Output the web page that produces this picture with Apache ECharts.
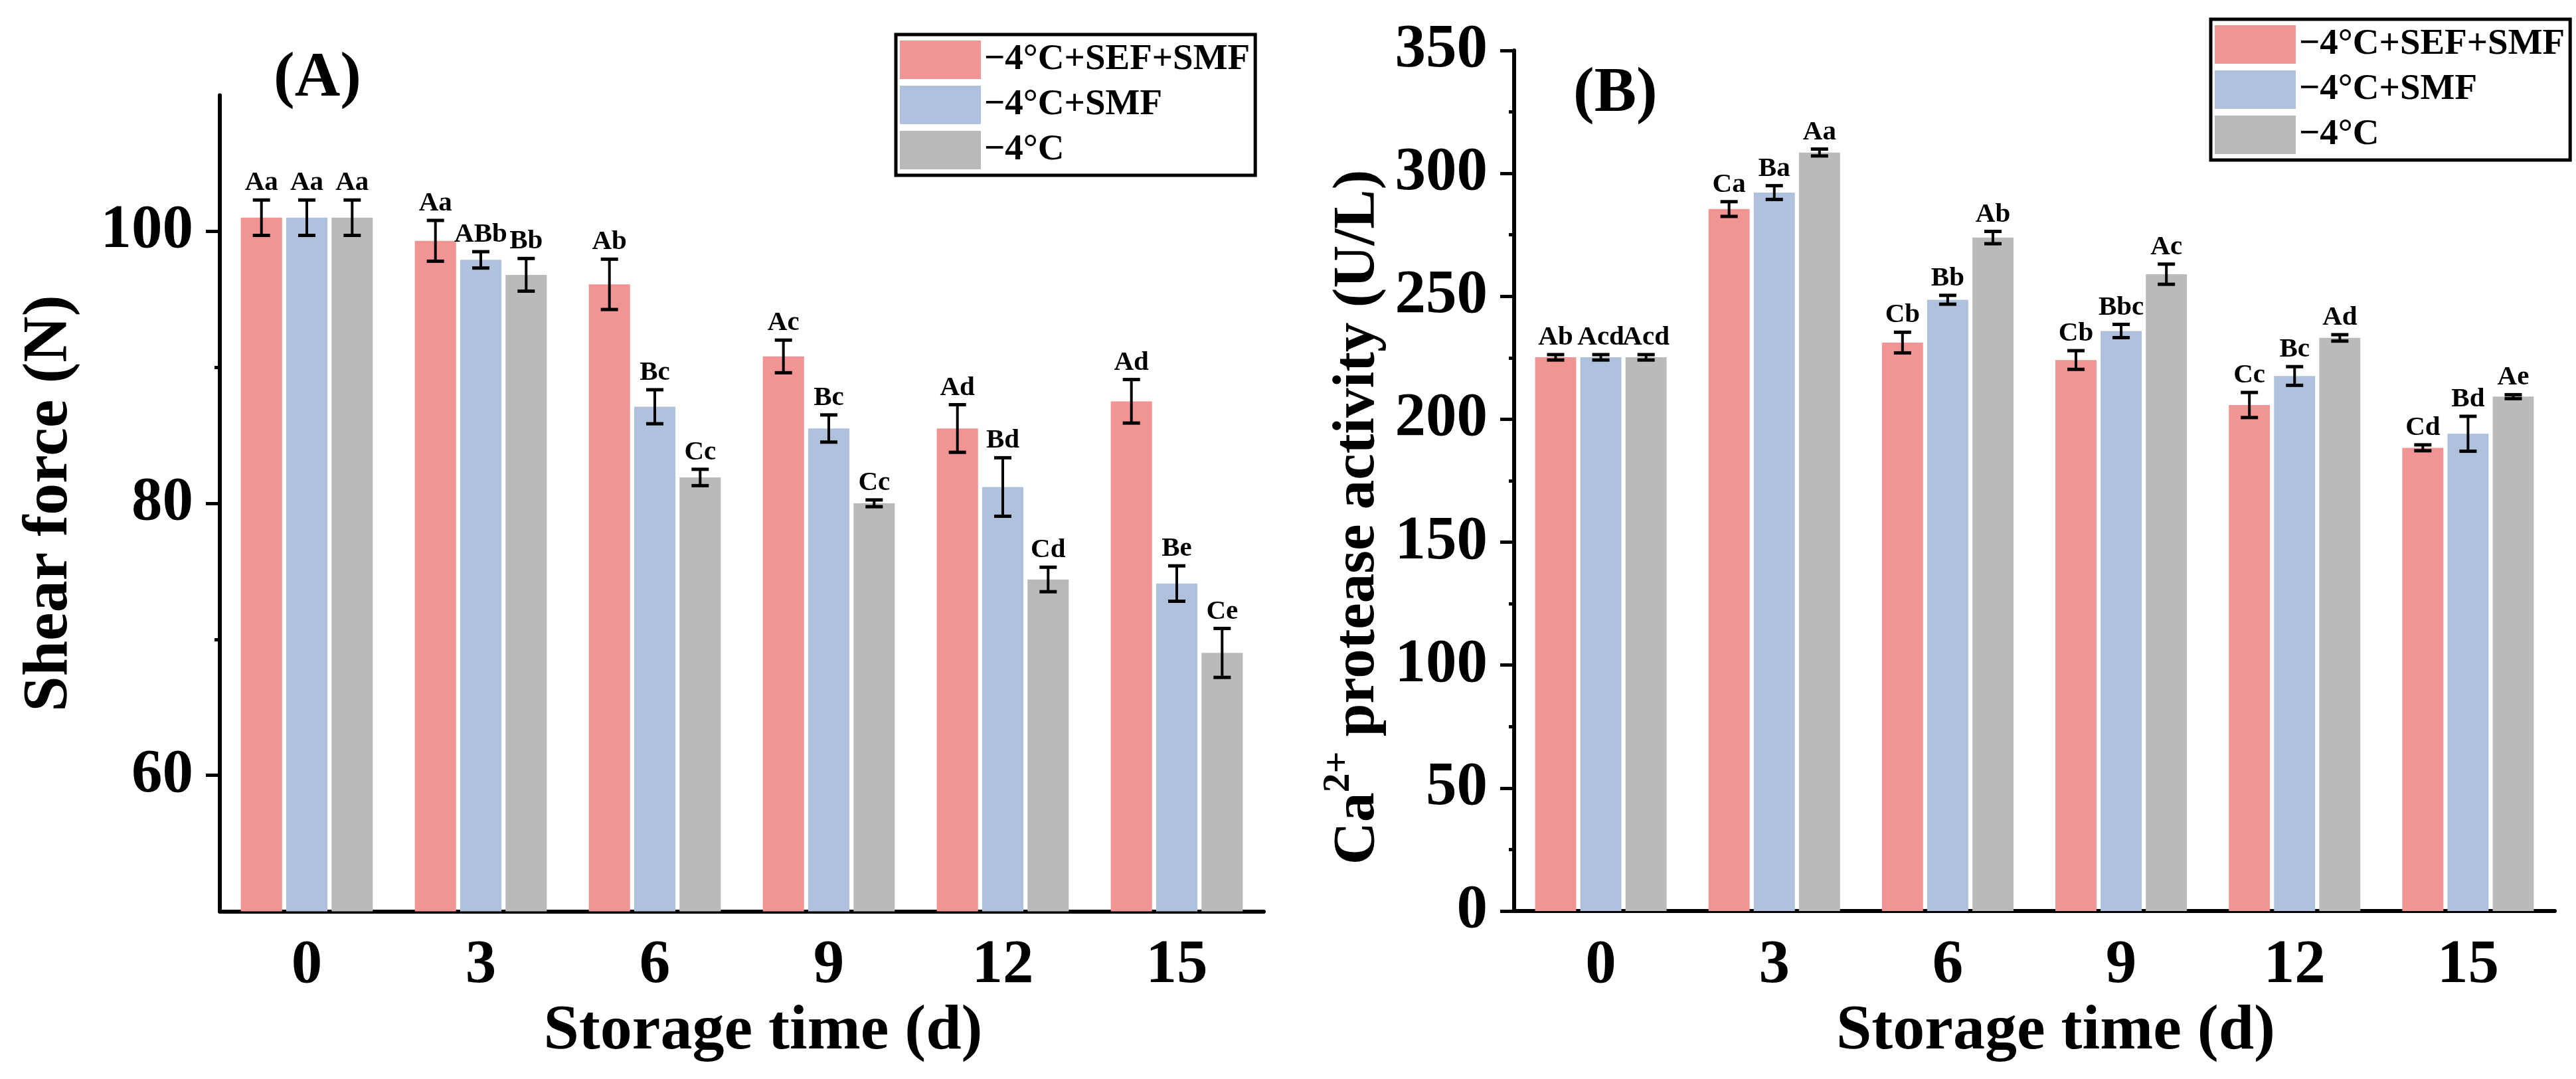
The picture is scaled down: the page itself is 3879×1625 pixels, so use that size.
<!DOCTYPE html>
<html>
<head>
<meta charset="utf-8">
<script src="https://cdn.jsdelivr.net/npm/echarts@6/dist/echarts.min.js"></script>
<style>
html,body{margin:0;padding:0;background:#fff;}
#chart{width:3879px;height:1625px;}
</style>
</head>
<body>
<div id="chart"></div>
<script>
// ---------- data ----------
const categories = ['0', '3', '6', '9', '12', '15'];
const seriesNames = ['\u22124\u00b0C+SEF+SMF', '\u22124\u00b0C+SMF', '\u22124\u00b0C'];
const colors = ['#F09494', '#B0C1DE', '#BABABA'];

// Panel A: shear force (N)
const shearSefSmf = [101.0, 99.3, 96.1, 90.8, 85.5, 87.5];
const shearSmf    = [101.0, 97.9, 87.1, 85.5, 81.2, 74.1];
const shearCtrl   = [101.0, 96.8, 81.9, 80.0, 74.4, 69.0];
const shearErrSefSmf = [1.3, 1.5, 1.85, 1.2, 1.75, 1.6];
const shearErrSmf    = [1.3, 0.6, 1.25, 1.0, 2.15, 1.3];
const shearErrCtrl   = [1.3, 1.2, 0.6, 0.25, 0.9, 1.8];
const shearLblSefSmf = ['Aa', 'Aa', 'Ab', 'Ac', 'Ad', 'Ad'];
const shearLblSmf    = ['Aa', 'ABb', 'Bc', 'Bc', 'Bd', 'Be'];
const shearLblCtrl   = ['Aa', 'Bb', 'Cc', 'Cc', 'Cd', 'Ce'];
const shearTickLabels = [60, 80, 100];
const shearMinorTicks = [70, 90];

// Panel B: Ca2+ protease activity (U/L)
const caSefSmf = [225.2, 285.5, 231.2, 224.1, 205.8, 188.4];
const caSmf    = [225.2, 292.2, 248.6, 235.9, 217.6, 194.1];
const caCtrl   = [225.2, 308.5, 273.9, 259.0, 233.1, 209.2];
const caErrSefSmf = [1.1, 3.0, 4.2, 3.8, 5.1, 1.2];
const caErrSmf    = [1.1, 2.8, 1.8, 2.7, 3.8, 7.1];
const caErrCtrl   = [1.1, 1.4, 2.5, 4.1, 1.3, 0.8];
const caLblSefSmf = ['Ab', 'Ca', 'Cb', 'Cb', 'Cc', 'Cd'];
const caLblSmf    = ['Acd', 'Ba', 'Bb', 'Bbc', 'Bc', 'Bd'];
const caLblCtrl   = ['Acd', 'Aa', 'Ab', 'Ac', 'Ad', 'Ae'];

// ---------- build ----------
const FONT = '"Liberation Serif","Times New Roman",Times,serif';
const BAR_W = 0.237, BAR_GAP = 0.10;
const centerStep = BAR_W * (1 + BAR_GAP);

const panels = [
  {vals: [shearSefSmf, shearSmf, shearCtrl], errs: [shearErrSefSmf, shearErrSmf, shearErrCtrl],
   lbls: [shearLblSefSmf, shearLblSmf, shearLblCtrl]},
  {vals: [caSefSmf, caSmf, caCtrl], errs: [caErrSefSmf, caErrSmf, caErrCtrl],
   lbls: [caLblSefSmf, caLblSmf, caLblCtrl]}
];

const series = [];
panels.forEach((p, pi) => {
  const yIdx = pi === 0 ? 0 : 2;
  p.vals.forEach((arr, si) => {
    series.push({
      type: 'bar', name: seriesNames[si], xAxisIndex: pi, yAxisIndex: yIdx,
      data: arr, barWidth: (BAR_W * 100) + '%', barGap: (BAR_GAP * 100) + '%',
      itemStyle: {color: colors[si]}, z: 2
    });
  });
  p.vals.forEach((arr, si) => {
    const errs = p.errs[si], lbls = p.lbls[si];
    series.push({
      type: 'custom', name: seriesNames[si] + ' err', xAxisIndex: pi, yAxisIndex: yIdx, z: 5,
      data: arr.map((v, k) => [k, v, errs[k]]),
      renderItem: function (params, api) {
        const k = api.value(0), v = api.value(1), e = api.value(2);
        const top = api.coord([k, v + e]);
        const bot = api.coord([k, v - e]);
        const bw = api.size([1, 0])[0];
        const x = top[0] + (si - 1) * bw * centerStep;
        const capHalf = 13;
        const st = {stroke: '#000', lineWidth: 4};
        const cs = {stroke: '#000', lineWidth: 5};
        return {
          type: 'group',
          children: [
            {type: 'line', shape: {x1: x, y1: top[1], x2: x, y2: bot[1]}, style: st},
            {type: 'line', shape: {x1: x - capHalf, y1: top[1], x2: x + capHalf, y2: top[1]}, style: cs},
            {type: 'line', shape: {x1: x - capHalf, y1: bot[1], x2: x + capHalf, y2: bot[1]}, style: cs},
            {type: 'text', x: x, y: top[1] - 5,
             style: {text: lbls[params.dataIndex], fill: '#000', font: 'bold 41px ' + FONT,
                     align: 'center', verticalAlign: 'bottom'}}
          ]
        };
      }
    });
  });
});

const axisLbl = {color: '#000', fontFamily: FONT, fontWeight: 'bold', fontSize: 93};
const nameStyle = {color: '#000', fontFamily: FONT, fontWeight: 'bold', fontSize: 96};

const xAxisCommon = {
  type: 'category', data: categories,
  axisLine: {onZero: false, lineStyle: {color: '#000', width: 6}},
  axisTick: {alignWithLabel: true, length: 20, lineStyle: {color: '#000', width: 5}},
  axisLabel: Object.assign({margin: 36}, axisLbl),
  name: 'Storage time (d)', nameLocation: 'middle', nameGap: 128,
  nameTextStyle: Object.assign({padding: [0, 0, 0, 64]}, nameStyle),
  splitLine: {show: false}
};

const legendCommon = {
  orient: 'vertical', itemWidth: 122, itemHeight: 58, itemGap: 10, icon: 'rect',
  padding: [9, 8, 9, 6], borderColor: '#000', borderWidth: 5, borderRadius: 0,
  backgroundColor: '#fff',
  textStyle: {color: '#000', fontFamily: FONT, fontWeight: 'bold', fontSize: 55},
  data: seriesNames
};

const option = {
  backgroundColor: '#fff',
  animation: false,
  textStyle: {fontFamily: FONT},
  grid: [
    {left: 331, top: 143.5, width: 1572, height: 1229},
    {left: 2280, top: 76, width: 1567, height: 1296}
  ],
  xAxis: [
    Object.assign({gridIndex: 0}, xAxisCommon),
    Object.assign({gridIndex: 1}, xAxisCommon)
  ],
  yAxis: [
    {type: 'value', gridIndex: 0, position: 'left', min: 50, max: 110, interval: 10,
     axisLine: {show: true, lineStyle: {color: '#000', width: 6}},
     axisTick: {show: true, length: 21, customValues: shearTickLabels, lineStyle: {color: '#000', width: 5}},
     axisLabel: Object.assign({margin: 40, customValues: shearTickLabels}, axisLbl),
     splitLine: {show: false},
     name: 'Shear force (N)', nameLocation: 'middle', nameRotate: 90, nameGap: 208,
     nameTextStyle: nameStyle},
    {type: 'value', gridIndex: 0, position: 'left', offset: 0, min: 50, max: 110, interval: 10,
     axisLine: {show: false},
     axisTick: {show: true, length: 8, customValues: shearMinorTicks, lineStyle: {color: '#000', width: 5}},
     axisLabel: {show: false}, splitLine: {show: false}},
    {type: 'value', gridIndex: 1, position: 'left', min: 0, max: 350, interval: 50,
     axisLine: {show: true, lineStyle: {color: '#000', width: 6}},
     axisTick: {show: true, length: 21, lineStyle: {color: '#000', width: 5}},
     minorTick: {show: true, splitNumber: 2, length: 8, lineStyle: {color: '#000', width: 5}},
     axisLabel: Object.assign({margin: 40}, axisLbl),
     splitLine: {show: false},
     name: '{n|Ca}{sup|2+}{n| protease activity (U/L)}', nameLocation: 'middle', nameRotate: 90, nameGap: 177,
     nameTextStyle: Object.assign({}, nameStyle, {
       fontSize: 89,
       padding: [0, 110, 0, 0],
       rich: {
         n: {fontFamily: FONT, fontWeight: 'bold', fontSize: 89, lineHeight: 116, color: '#000'},
         sup: {fontFamily: FONT, fontWeight: 'bold', fontSize: 58, lineHeight: 58, color: '#000', verticalAlign: 'top'}
       }
     })}
  ],
  legend: [
    Object.assign({left: 1349, top: 52}, legendCommon),
    Object.assign({left: 3329, top: 29}, legendCommon)
  ],
  graphic: [
    {type: 'text', left: 412, top: 72, style: {text: '(A)', fill: '#000', font: 'bold 95px ' + FONT}},
    {type: 'text', left: 2369, top: 95, style: {text: '(B)', fill: '#000', font: 'bold 95px ' + FONT}}
  ],
  series: series
};

const chart = echarts.init(document.getElementById('chart'), null, {renderer: 'canvas'});
chart.setOption(option);
</script>
</body>
</html>
